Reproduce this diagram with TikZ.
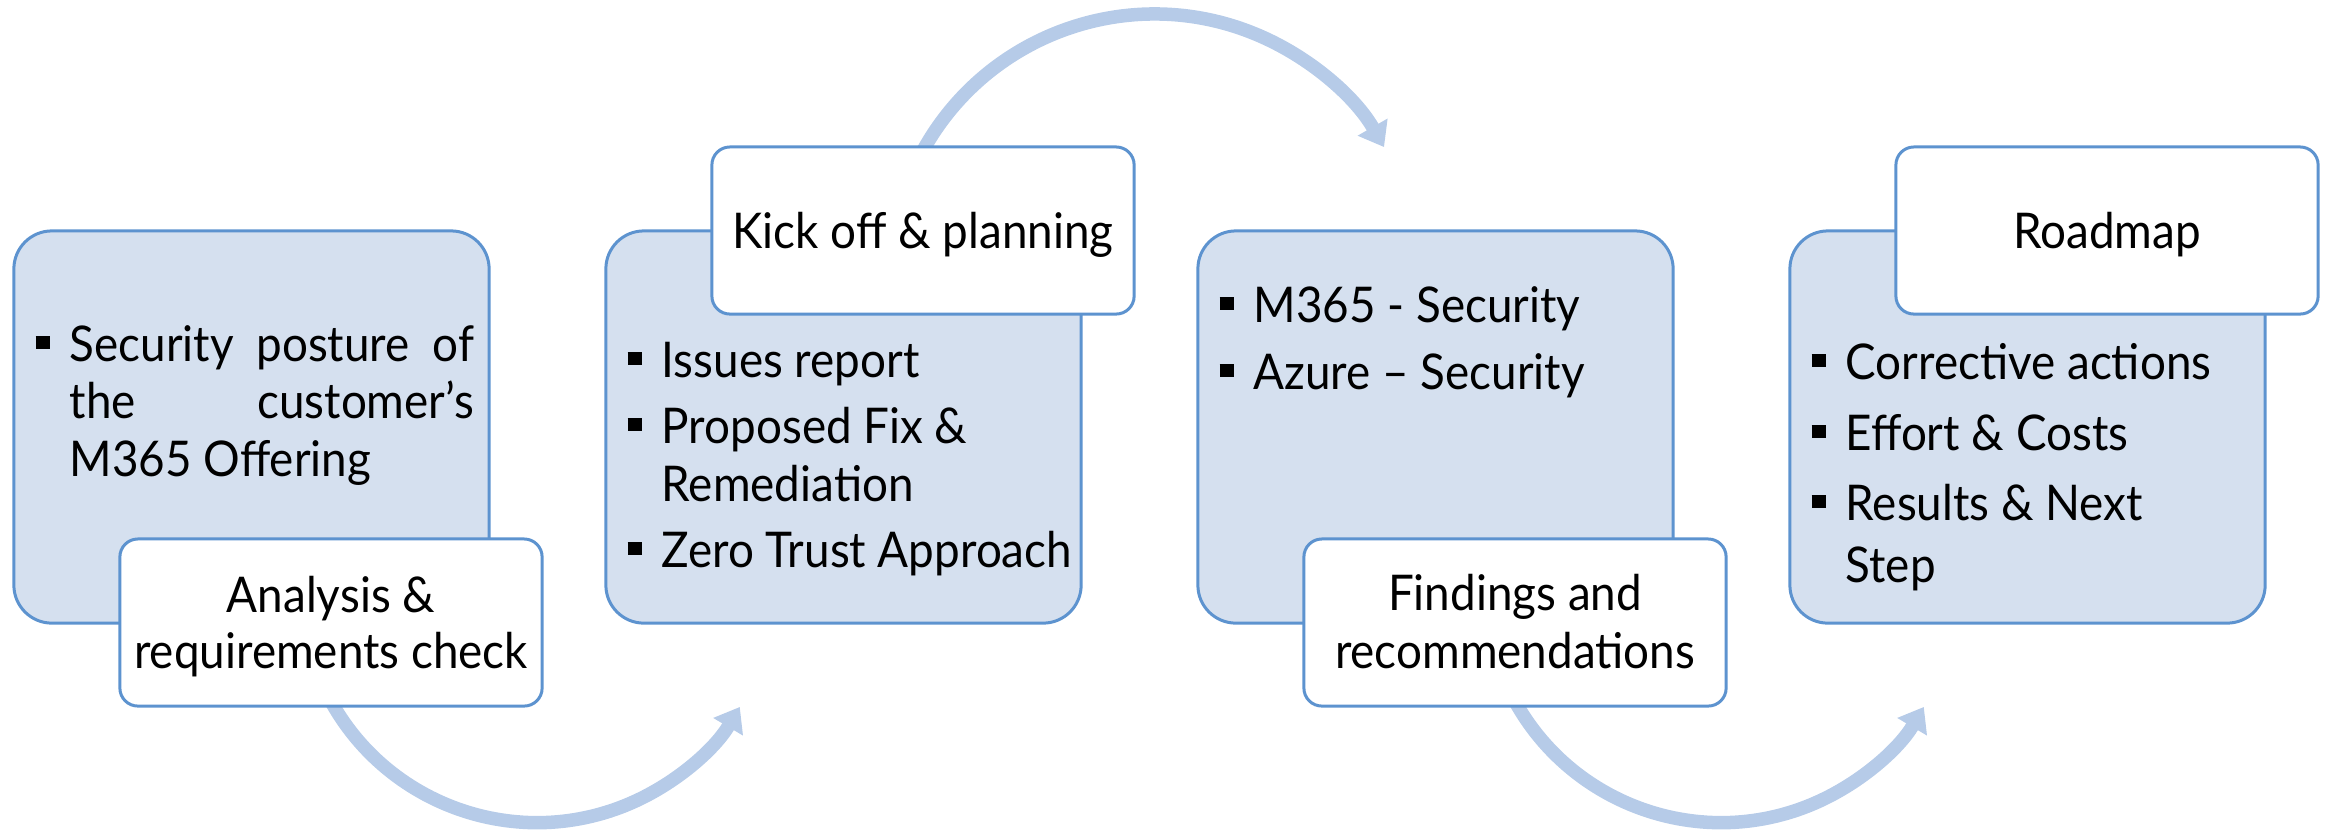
\documentclass[tikz,border=0pt]{standalone}
\usepackage{fontspec}
\setmainfont{Lato}[FakeStretch=0.93]
\usetikzlibrary{arrows.meta}
\definecolor{fillc}{HTML}{D5E0EF}
\definecolor{bordc}{HTML}{5D93CF}
\definecolor{arrc}{HTML}{B6CBE8}
\newcommand{\bsq}{\llap{\rule[0.12cm]{0.14cm}{0.13cm}\hspace{0.20cm}}}
\tikzset{
  bluebox/.style={draw=bordc, fill=fillc, line width=0.03cm, rounded corners=0.38cm,
    minimum width=4.75cm, minimum height=3.92cm, inner sep=0},
  whitebox/.style={draw=bordc, fill=white, line width=0.03cm, rounded corners=0.18cm,
    minimum width=4.22cm, minimum height=1.67cm, inner sep=0},
  txt/.style={anchor=base west, inner sep=0, font=\fontsize{14}{16}\selectfont},
  ttl/.style={anchor=base, inner sep=0, font=\fontsize{14}{16}\selectfont},
  flow/.style={draw=arrc, line width=0.135cm, -{Triangle[length=0.23cm,width=0.33cm]}}
}
\begin{document}
\begin{tikzpicture}[x=0.01cm, y=-0.01cm]
\useasboundingbox (0,0) rectangle (2325,832);
% blue boxes
\node[bluebox] (b1) at (251.5,427) {};
\node[bluebox] (b2) at (843.5,427) {};
\node[bluebox] (b3) at (1435.5,427) {};
\node[bluebox] (b4) at (2027.5,427) {};
% arc centres
\coordinate (c1) at (537,587);
\coordinate (c2) at (1154.5,278.5);
\coordinate (c3) at (1721,587);
% arrows
\draw[flow] ([shift={(155:235.6)}]c1) arc[start angle=155, end angle=30.6, radius=235.6];
\draw[flow] ([shift={(204:264.5)}]c2) arc[start angle=204, end angle=330.2, radius=264.5];
\draw[flow] ([shift={(155:235.6)}]c3) arc[start angle=155, end angle=30.6, radius=235.6];
% white boxes
\node[whitebox] (w1) at (331,622.5) {};
\node[whitebox] (w2) at (923,230.5) {};
\node[whitebox] (w3) at (1515,622.5) {};
\node[whitebox] (w4) at (2107,230.5) {};
% titles
\node[ttl] (t1a) at (331,612) {Analysis \&};
\node[ttl] (t1b) at (331,668) {requirements check};
\node[ttl] (t2) at (923,248) {Kick off \& planning};
\node[ttl] (t3a) at (1515,610) {Findings and};
\node[ttl] (t3b) at (1515,668) {recommendations};
\node[ttl] (t4) at (2107,248) {Roadmap};
% box 1 text
\node[txt] (l1a) at (69,361) {\bsq\makebox[4.04cm][s]{Security posture of}};
\node[txt] (l1b) at (69,418) {\makebox[4.04cm][s]{the customer’s}};
\node[txt] (l1c) at (69,476) {M365 Offering};
% box 2 text
\node[txt] (l2a) at (661,377) {\bsq Issues report};
\node[txt] (l2b) at (661,443) {\bsq Proposed Fix \&};
\node[txt] (l2c) at (661,501) {Remediation};
\node[txt] (l2d) at (661,567) {\bsq Zero Trust Approach};
% box 3 text
\node[txt] (l3a) at (1253,322) {\bsq M365 - Security};
\node[txt] (l3b) at (1253,389) {\bsq Azure – Security};
% box 4 text
\node[txt] (l4a) at (1845,379) {\bsq Corrective actions};
\node[txt] (l4b) at (1845,450) {\bsq Effort \& Costs};
\node[txt] (l4c) at (1845,520) {\bsq Results \& Next};
\node[txt] (l4d) at (1845,582) {Step};
\end{tikzpicture}
\end{document}
